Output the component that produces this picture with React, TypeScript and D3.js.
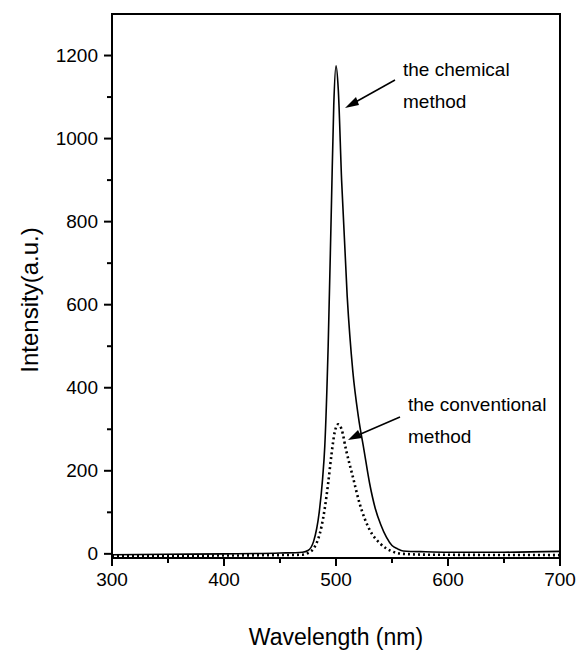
import React from "react";
import * as d3 from "d3";

const chemWl = [300, 350, 400, 450, 470, 475, 480, 485, 488, 490, 493, 496, 498, 500, 502, 505, 510, 515, 520, 525, 530, 535, 540, 545, 550, 555, 560, 580, 600, 650, 700];
const chemVal = [-2, -1, 0, 2, 4, 8, 30, 100, 180, 260, 500, 850, 1080, 1175, 1120, 900, 620, 440, 330, 250, 170, 110, 70, 40, 20, 12, 7, 5, 4, 4, 6];

const convWl = [300, 400, 450, 470, 475, 481, 487, 490, 493, 496, 499, 502, 505, 509, 515, 521, 530, 539, 550, 560, 580, 700];
const convVal = [-5, -4, -3, -2, 2, 17, 65, 110, 170, 240, 295, 312, 300, 250, 186, 122, 58, 26, 6, 0, -2, -3];

const xTicks = [300, 400, 500, 600, 700];
const xMinor = [350, 450, 550, 650];
const yTicks = [0, 200, 400, 600, 800, 1000, 1200];
const yMinor = [100, 300, 500, 700, 900, 1100];

const FONT = "'Liberation Sans', Arial, Helvetica, sans-serif";

export default function App() {
  const L = 112, R = 560, T = 14, B = 558;
  const x = d3.scaleLinear().domain([300, 700]).range([L, R]);
  const y = d3.scaleLinear().domain([-10, 1300]).range([B, T]);

  const line = d3.line<[number, number]>()
    .x((d) => x(d[0]))
    .y((d) => y(d[1]))
    .curve(d3.curveMonotoneX);

  const chem = line(chemWl.map((w, i) => [w, chemVal[i]] as [number, number])) || "";
  const conv = line(convWl.map((w, i) => [w, convVal[i]] as [number, number])) || "";

  return (
    <svg width={578} height={653} style={{ position: "absolute", left: 0, top: 0, background: "#fff" }} fontFamily={FONT}>
      <rect x={0} y={0} width={578} height={653} fill="#fff" />
      <path d={conv} fill="none" stroke="#000" strokeWidth={2.6} strokeDasharray="2,3" />
      <path d={chem} fill="none" stroke="#000" strokeWidth={1.6} />
      <rect x={L} y={T} width={R - L} height={B - T} fill="none" stroke="#000" strokeWidth={2} />
      {yTicks.map((t) => (
        <g key={"y" + t}>
          <line x1={L - 8} x2={L} y1={y(t)} y2={y(t)} stroke="#000" strokeWidth={2} />
          <text x={L - 14} y={y(t)} dy="0.35em" textAnchor="end" fontSize={19}>{t}</text>
        </g>
      ))}
      {yMinor.map((t) => (
        <line key={"ym" + t} x1={L - 5} x2={L} y1={y(t)} y2={y(t)} stroke="#000" strokeWidth={2} />
      ))}
      {xTicks.map((t) => (
        <g key={"x" + t}>
          <line x1={x(t)} x2={x(t)} y1={B} y2={B + 8} stroke="#000" strokeWidth={2} />
          <text x={x(t)} y={B + 28} textAnchor="middle" fontSize={19}>{t}</text>
        </g>
      ))}
      {xMinor.map((t) => (
        <line key={"xm" + t} x1={x(t)} x2={x(t)} y1={B} y2={B + 5} stroke="#000" strokeWidth={2} />
      ))}
      <text x={(L + R) / 2} y={645} textAnchor="middle" fontSize={23}>Wavelength (nm)</text>
      <text transform={`translate(38,300) rotate(-90)`} textAnchor="middle" fontSize={24}>Intensity(a.u.)</text>

      <text x={403} y={76} fontSize={19}>the chemical</text>
      <text x={403} y={108} fontSize={19}>method</text>
      <line x1={395} y1={80} x2={352} y2={104} stroke="#000" strokeWidth={1.5} />
      <path d="M345,108 L356,97 L359,105 Z" fill="#000" />

      <text x={408} y={411} fontSize={19}>the conventional</text>
      <text x={408} y={443} fontSize={19}>method</text>
      <line x1={400} y1={417} x2={356} y2={436} stroke="#000" strokeWidth={1.5} />
      <path d="M348,440 L358,430 L362,438 Z" fill="#000" />
    </svg>
  );
}
